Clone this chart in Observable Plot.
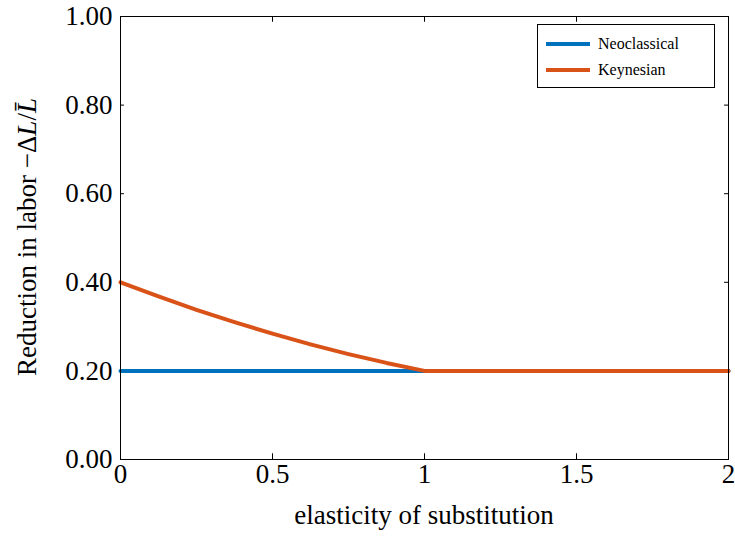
<!DOCTYPE html>
<html><head><meta charset="utf-8">
<script src="https://cdn.jsdelivr.net/npm/d3@7"></script>
<script src="https://cdn.jsdelivr.net/npm/@observablehq/plot@0.6"></script>
<style>body{margin:0;background:#fff;font-family:"Liberation Serif",serif}#wrap{position:relative;width:735px;height:537px}
#leg{position:absolute;left:537px;top:24px;width:178px;height:64px;border:1px solid #000;background:#fff;font-size:16px;box-sizing:border-box;padding:6px 8px}
#leg div{display:flex;align-items:center;height:26px}#leg span{display:inline-block;width:44px;height:4px;margin-right:8px}</style>
</head><body><div id="wrap"><div id="leg"><div><span style="background:#0072BD"></span>Neoclassical</div><div><span style="background:#D95319"></span>Keynesian</div></div></div>
<script>
const sigma = [0, 0.125, 0.25, 0.375, 0.5, 0.625, 0.75, 0.875, 1, 1.5, 2];
const neoclassical = [0.2, 0.2, 0.2, 0.2, 0.2, 0.2, 0.2, 0.2, 0.2, 0.2, 0.2];
const keynesian = [0.4, 0.368, 0.338, 0.31, 0.284, 0.26, 0.238, 0.218, 0.2, 0.2, 0.2];
const xTicks = [0, 0.5, 1, 1.5, 2];
const yTicks = [0, 0.2, 0.4, 0.6, 0.8, 1.0];
const neo = sigma.map((s,i)=>({s, v:neoclassical[i]}));
const key = sigma.map((s,i)=>({s, v:keynesian[i]}));
const plot = Plot.plot({
  width:735, height:537, marginLeft:120, marginRight:7, marginTop:16, marginBottom:78,
  style:{fontFamily:"Liberation Serif, serif"},
  x:{domain:[0,2], label:null},
  y:{domain:[0,1], label:null},
  marks:[
    Plot.axisX(xTicks,{tickFormat:d=>String(d), label:null, tickSize:0, tickPadding:4}),
    Plot.axisY(yTicks,{tickFormat:d=>d.toFixed(2), label:null, tickSize:0, tickPadding:8}),
    Plot.ruleX(xTicks,{y1:0,y2:0.013,stroke:"#000"}),
    Plot.ruleX(xTicks,{y1:1,y2:0.987,stroke:"#000"}),
    Plot.ruleY(yTicks,{x1:0,x2:0.013,stroke:"#000"}),
    Plot.ruleY(yTicks,{x1:2,x2:1.987,stroke:"#000"}),
    Plot.line(neo,{x:"s",y:"v",stroke:"#0072BD",strokeWidth:4}),
    Plot.line(key,{x:"s",y:"v",stroke:"#D95319",strokeWidth:4}),
    Plot.frame({stroke:"#000"})
  ]
});
document.getElementById("wrap").prepend(plot);
const svg = d3.select(plot);
svg.selectAll("g[aria-label] text").style("font-size","27px");
svg.append("text").attr("x",424).attr("y",524).attr("text-anchor","middle").style("font-size","27px").text("elasticity of substitution");
const t = svg.append("text").attr("transform","translate(36,237) rotate(-90)").attr("text-anchor","middle").style("font-size","27px");
t.append("tspan").text("Reduction in labor −Δ");
t.append("tspan").attr("font-style","italic").text("L");
t.append("tspan").text("/");
t.append("tspan").attr("font-style","italic").text("L̄");
</script></body></html>
